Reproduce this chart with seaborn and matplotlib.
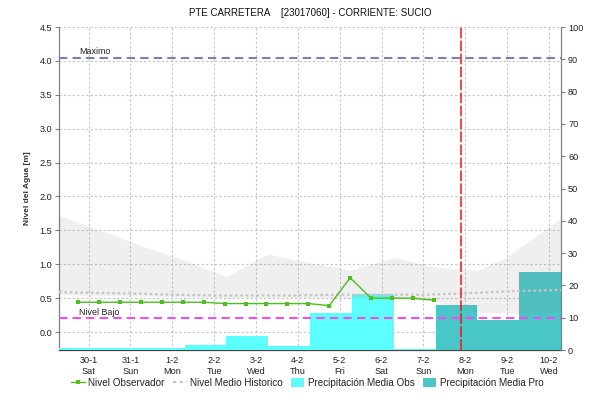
import numpy as np
import pandas as pd
import matplotlib
matplotlib.use("Agg")
import matplotlib.pyplot as plt
import seaborn as sns
from matplotlib.lines import Line2D
from matplotlib.patches import Patch
from matplotlib.ticker import FormatStrFormatter

# ---------------- data ----------------
day_labels = ["30-1", "31-1", "1-2", "2-2", "3-2", "4-2", "5-2", "6-2", "7-2", "8-2", "9-2", "10-2"]
weekday_labels = ["Sat", "Sun", "Mon", "Tue", "Wed", "Thu", "Fri", "Sat", "Sun", "Mon", "Tue", "Wed"]

# daily precipitation (right axis), accumulated until 07:00 of each day
precip_obs = [0.5, 0.5, 0.5, 1.5, 4.4, 1.3, 11.4, 17.4, 0.4]
precip_pro = [13.8, 9.4, 24.0]
precip_day_end_hour = 7

# observed water level every 12 h starting 29-1 18:00
nivel_obs = [0.44, 0.44, 0.44, 0.44, 0.44, 0.44, 0.44, 0.42, 0.42, 0.42,
             0.42, 0.42, 0.39, 0.80, 0.50, 0.50, 0.50, 0.47]
nivel_obs_start = -0.25
nivel_obs_step = 0.5

# historical mean level
mean_days = [-0.71, 0, 1, 2, 3, 4, 5, 6, 7, 8, 9, 10, 11.29]
mean_vals = [0.59, 0.58, 0.57, 0.55, 0.54, 0.54, 0.54, 0.55, 0.55, 0.55, 0.57, 0.60, 0.62]

# historical range band
band_days = [-0.71, 0.29, 1.32, 2.3, 3.3, 4.28, 5.31, 6.27, 6.5, 7.3, 8.25, 9.3, 10.0, 10.57, 11.29]
band_high = [1.72, 1.50, 1.26, 1.06, 0.82, 1.15, 1.02, 0.91, 0.96, 1.10, 0.96, 0.91, 1.11, 1.36, 1.68]
band_low = [0.55, 0.54, 0.53, 0.52, 0.51, 0.51, 0.51, 0.50, 0.50, 0.49, 0.46, 0.29, 0.28, 0.28, 0.29]

nivel_maximo = 4.04
nivel_bajo = 0.21
now_day = 8.9

title = "PTE CARRETERA    [23017060] - CORRIENTE: SUCIO"

# ---------------- style ----------------
sns.set_theme(style="white")
plt.rcParams["font.family"] = ["Liberation Sans", "DejaVu Sans"]

c_obs = "#5CFFFF"
c_pro = "#48C6C8"
c_green = "#4DBE1E"
c_mean = "#C6C6C6"
c_mag = "#EE4FEE"
c_max = "#7880B0"
c_grid = "#C4C4C4"
c_axis = "#808080"

fig = plt.figure(figsize=(5.9, 4.03), dpi=100)
fig.patch.set_facecolor("white")
pos = [0.1, 0.1315, 0.851, 0.8015]
ax = fig.add_axes(pos)
ax2 = ax.twinx()
ax3 = fig.add_axes(pos, sharex=ax, sharey=ax)

ax.set_zorder(0)
ax2.set_zorder(1)
ax3.set_zorder(2)
ax.patch.set_facecolor("white")
ax2.patch.set_visible(False)
ax3.patch.set_visible(False)

# ---------------- bars (right axis) ----------------
n_days = len(day_labels)
offset = precip_day_end_hour / 24 - 0.5
bar_df = pd.DataFrame({
    "day": np.arange(n_days) + offset,
    "precip": precip_obs + precip_pro,
    "tipo": ["Obs"] * len(precip_obs) + ["Pro"] * len(precip_pro),
})
sns.barplot(data=bar_df, x="day", y="precip", hue="tipo", native_scale=True,
            palette={"Obs": c_obs, "Pro": c_pro}, saturation=1, width=1.0,
            dodge=False, linewidth=0, legend=False, ax=ax2, errorbar=None)

# ---------------- overlay (left axis units) ----------------
ax3.fill_between(band_days, band_low, band_high, color="#888888", alpha=0.13, lw=0, zorder=1)
sns.lineplot(x=mean_days, y=mean_vals, color=c_mean, lw=1.6, linestyle=(0, (1.2, 1.2)),
             ax=ax3, zorder=2)
ax3.axhline(nivel_maximo, color=c_max, lw=1.5, linestyle=(0, (4, 2.5)), zorder=3)
ax3.axhline(nivel_bajo, color=c_mag, lw=1.5, linestyle=(0, (4, 2.5)), zorder=3)
obs_days = nivel_obs_start + nivel_obs_step * np.arange(len(nivel_obs))
sns.lineplot(x=obs_days, y=nivel_obs, color=c_green, lw=1.0, marker="s",
             markersize=3.2, markeredgewidth=0, ax=ax3, zorder=4)
ax3.axvline(now_day, color="#FF1010", lw=1.1, linestyle=(0, (7, 1.5)), zorder=5)

ax3.text(-0.22, nivel_maximo + 0.06, "Maximo", fontsize=6.4, color="#222222", va="baseline")
ax3.text(-0.22, nivel_bajo + 0.035, "Nivel Bajo", fontsize=6.4, color="#222222", va="baseline")

# ---------------- axes ----------------
x_start = precip_day_end_hour / 24 - 1
x_end = n_days - 1 + precip_day_end_hour / 24
ax.set_xlim(x_start, x_end)
ax.set_ylim(-0.265, 4.5)
ax2.set_ylim(0, 100)

ax.set_xticks(range(n_days))
ax.set_xticklabels([f"{d}\n{w}" for d, w in zip(day_labels, weekday_labels)],
                   fontsize=6.6, color="#222222", linespacing=1.3)
ax.set_yticks(np.arange(0, 4.51, 0.5))
ax.yaxis.set_major_formatter(FormatStrFormatter("%.1f"))
ax2.set_yticks(np.arange(0, 101, 10))

ax.tick_params(axis="x", length=0, pad=4)
ax.tick_params(axis="y", length=3, width=0.8, color=c_axis, labelsize=6.6,
               labelcolor="#222222", pad=2, left=True)
ax2.tick_params(axis="y", length=3, width=0.8, color=c_axis, labelsize=6.6,
                labelcolor="#222222", pad=2, right=True)

ax.grid(True, color=c_grid, linestyle=(0, (2, 2)), lw=0.8)
ax2.grid(False)
ax3.set_axis_off()

for a in (ax, ax2):
    for s in a.spines.values():
        s.set_visible(False)
ax.spines["left"].set_visible(True)
ax.spines["left"].set_color(c_axis)
ax.spines["left"].set_linewidth(0.9)
ax.spines["bottom"].set_visible(True)
ax.spines["bottom"].set_color("#444444")
ax.spines["bottom"].set_linestyle((0, (1, 1)))
ax.spines["bottom"].set_linewidth(0.9)
ax2.spines["right"].set_visible(True)
ax2.spines["right"].set_color(c_axis)
ax2.spines["right"].set_linewidth(0.9)

ax.set_xlabel("")
ax2.set_xlabel("")
ax2.set_ylabel("")
ax.set_ylabel("Nivel del Agua [m]", fontsize=6.0, fontweight="bold", color="#333333", labelpad=6)
ax.set_title(title, fontsize=7.0, color="#111111", pad=8)

handles = [
    Line2D([0], [0], color=c_green, lw=1.0, marker="s", markersize=3.2, markeredgewidth=0),
    Line2D([0], [0], color=c_mean, lw=1.6, linestyle=(0, (1.5, 1.5))),
    Patch(facecolor=c_obs, edgecolor="none"),
    Patch(facecolor=c_pro, edgecolor="none"),
]
labels = ["Nivel Observador", "Nivel Medio Historico", "Precipitación Media Obs", "Precipitación Media Pro"]
fig.legend(handles, labels, loc="center", bbox_to_anchor=(0.521, 0.05), ncol=4,
           frameon=False, fontsize=7.1, handlelength=1.4, handleheight=1.0,
           handletextpad=0.35, columnspacing=0.8, labelcolor="#222222")

fig.savefig("out.png", dpi=100)
